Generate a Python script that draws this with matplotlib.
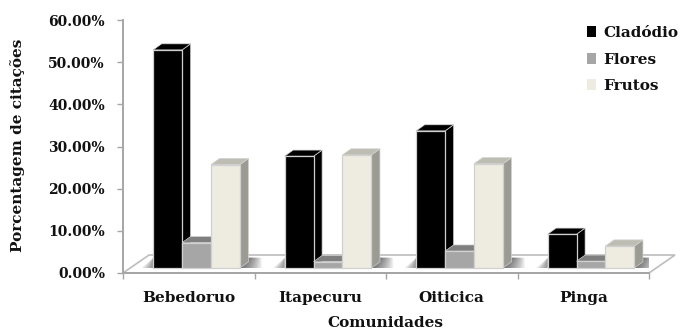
#!/usr/bin/env python3

import matplotlib
matplotlib.use("Agg")
import matplotlib.pyplot as plt
from matplotlib.patches import Patch, Polygon
from matplotlib.ticker import FuncFormatter
import numpy as np

comunidades = ["Bebedoruo", "Itapecuru", "Oiticica", "Pinga"]
cladodio = [51.7, 26.5, 32.5, 8.0]
flores = [6.0, 1.5, 4.0, 1.6]
frutos = [24.5, 26.8, 24.7, 5.2]

plt.rcParams["font.family"] = ["DejaVu Serif", "Liberation Serif"]
plt.rcParams["font.weight"] = "bold"

fig = plt.figure(figsize=(6.82, 3.31), dpi=100)
ax = fig.add_axes([123 / 682, 58 / 331, 526 / 682, 253 / 331])
ax.set_xlim(0, 4)
ax.set_ylim(0, 60)

# depth of the fake 3d look, in data units
bar_w = 0.22
group_c = 0.559
dx = 0.065
dy = 1.45
base = 1.2
floor_dx = 0.198
floor_dy = 4.27

# floor
ax.add_patch(Polygon([(0, 0), (floor_dx, floor_dy), (4 + floor_dx, floor_dy), (4, 0)],
                     closed=True, fc="white", ec="#bdbdbd", lw=1.2, clip_on=False, zorder=1))

series = [
    ("Cladódio", cladodio, "#000000", "#000000", "#000000"),
    ("Flores", flores, "#a6a6a6", "#7f7f7f", "#7f7f7f"),
    ("Frutos", frutos, "#eeece1", "#bebdb4", "#9c9b93"),
]

x = np.arange(len(comunidades))

# soft shadows on the floor next to each group
shadow_h = 2.4
for i in x:
    x_right = i + group_c + 1.5 * bar_w
    x_left = i + group_c - 1.5 * bar_w
    for w in np.linspace(0.17, 0.01, 30):
        ax.add_patch(Polygon([(x_right, base), (x_right + dx, base + shadow_h),
                              (x_right + dx + w * 0.6, base + shadow_h), (x_right + w, base)],
                             closed=True, fc="#404040", ec="none", alpha=0.035, zorder=1.5))
    for w in np.linspace(0.09, 0.005, 20):
        ax.add_patch(Polygon([(x_left, base), (x_left, base + shadow_h), (x_left - w, base)],
                             closed=True, fc="#404040", ec="none", alpha=0.035, zorder=1.5))

z = 2
for j, (name, vals, front, top, side) in enumerate(series):
    xs = x + group_c + (j - 1) * bar_w
    for xc, v in zip(xs, vals):
        x0 = xc - bar_w / 2
        x1 = xc + bar_w / 2
        y1 = base + v
        ax.add_patch(Polygon([(x1, base), (x1 + dx, base + dy), (x1 + dx, y1 + dy), (x1, y1)],
                             closed=True, fc=side, ec="#d0d0d0", lw=0.5, zorder=z))
        ax.add_patch(Polygon([(x0, y1), (x0 + dx, y1 + dy), (x1 + dx, y1 + dy), (x1, y1)],
                             closed=True, fc=top, ec="#d0d0d0", lw=0.5, zorder=z))
        ax.bar(xc, v, bar_w, bottom=base, color=front, edgecolor="#d0d0d0", lw=0.9, zorder=z + 0.5)
        z += 1

ax.spines["top"].set_visible(False)
ax.spines["right"].set_visible(False)
ax.spines["left"].set_color("#a6a6a6")
ax.spines["bottom"].set_color("#a6a6a6")
ax.spines["left"].set_linewidth(1.4)
ax.spines["bottom"].set_linewidth(1.4)
ax.spines["left"].set_zorder(50)
ax.spines["bottom"].set_zorder(50)

ax.set_yticks(np.arange(0, 61, 10))
ax.yaxis.set_major_formatter(FuncFormatter(lambda v, p: "%.2f%%" % v))
ax.set_xticks(np.arange(0, 5))
ax.set_xticklabels([])
ax.tick_params(axis="both", color="#a6a6a6", width=1, length=4)
ax.tick_params(axis="y", labelsize=10, pad=9, labelcolor="#111111")
for xc, name in zip(x + 0.5, comunidades):
    ax.text(xc, -6.0, name, ha="center", va="center", fontsize=11, color="#111111")

fig.text(385.5 / 682, 1 - 323 / 331, "Comunidades", ha="center", va="center", fontsize=11, color="#111111")
fig.text(18 / 682, 1 - 145.5 / 331, "Porcentagem de citações", ha="center", va="center", rotation=90,
         fontsize=11, color="#111111")

handles = [Patch(fc=s[2], ec="none") for s in series]
ax.legend(handles, [s[0] for s in series], loc="upper left", bbox_to_anchor=(587 / 682, 1 - 26 / 331),
          bbox_transform=fig.transFigure, frameon=False, fontsize=11, handlelength=0.6, handleheight=0.7,
          handletextpad=0.45, labelspacing=0.82, borderpad=0, borderaxespad=0, labelcolor="#111111")

fig.savefig("out.png", dpi=100)
